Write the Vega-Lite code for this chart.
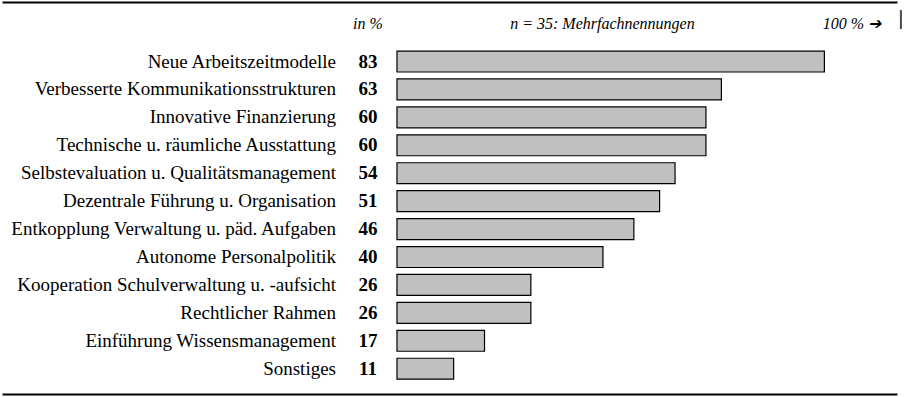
{
  "$schema": "https://vega.github.io/schema/vega-lite/v6.json",
  "autosize": {"type": "none"},
  "padding": {"left": 2, "top": 2, "right": 8, "bottom": 11},
  "width": 895,
  "height": 384,
  "background": "white",
  "config": {"view": {"stroke": null}, "font": "Liberation Serif"},
  "datasets": {
    "rows": [
      {"cat": "Neue Arbeitszeitmodelle", "value": 83},
      {"cat": "Verbesserte Kommunikationsstrukturen", "value": 63},
      {"cat": "Innovative Finanzierung", "value": 60},
      {"cat": "Technische u. räumliche Ausstattung", "value": 60},
      {"cat": "Selbstevaluation u. Qualitätsmanagement", "value": 54},
      {"cat": "Dezentrale Führung u. Organisation", "value": 51},
      {"cat": "Entkopplung Verwaltung u. päd. Aufgaben", "value": 46},
      {"cat": "Autonome Personalpolitik", "value": 40},
      {"cat": "Kooperation Schulverwaltung u. -aufsicht ", "value": 26},
      {"cat": "Rechtlicher Rahmen", "value": 26},
      {"cat": "Einführung Wissensmanagement", "value": 17},
      {"cat": "Sonstiges", "value": 11}
    ],
    "headers": [
      {"h": "in %", "at": -5.63},
      {"h": "n =  35: Mehrfachnennungen", "at": 39.9},
      {"h": "100 % ➔", "at": 88.35}
    ]
  },
  "resolve": {"axis": {"x": "independent"}},
  "layer": [
    {
      "data": {"name": "rows"},
      "mark": {"type": "bar", "fill": "#c0c0c0", "stroke": "black", "strokeWidth": 1.2},
      "encoding": {
        "y": {"field": "cat", "type": "nominal", "sort": null, "axis": null,
              "scale": {"paddingInner": 0.25, "paddingOuter": 1, "align": 0.878}},
        "x": {"field": "value", "type": "quantitative",
              "scale": {"domain": [-76.7, 97.1], "nice": false, "zero": false},
              "axis": {"orient": "bottom", "offset": 8, "domainColor": "black", "domainWidth": 2, "ticks": false, "labels": false, "grid": false, "title": null}},
        "x2": {"datum": 0}
      }
    },
    {
      "data": {"name": "rows"},
      "mark": {"type": "text", "align": "right", "baseline": "middle", "fontSize": 19, "font": "Liberation Serif", "color": "black"},
      "encoding": {
        "y": {"field": "cat", "type": "nominal", "sort": null, "axis": null},
        "x": {"datum": -11.84, "type": "quantitative", "axis": null},
        "text": {"field": "cat"}
      }
    },
    {
      "data": {"name": "rows"},
      "mark": {"type": "text", "align": "center", "baseline": "middle", "fontSize": 19, "fontWeight": "bold", "font": "Liberation Serif", "color": "black"},
      "encoding": {
        "y": {"field": "cat", "type": "nominal", "sort": null, "axis": null},
        "x": {"datum": -5.63, "type": "quantitative", "axis": null},
        "text": {"field": "value"}
      }
    },
    {
      "data": {"name": "headers"},
      "mark": {"type": "text", "align": "center", "baseline": "middle", "fontSize": 16, "fontStyle": "italic", "font": "Liberation Serif", "color": "black", "dy": -37.5},
      "encoding": {
        "y": {"datum": "Neue Arbeitszeitmodelle", "type": "nominal", "axis": null},
        "x": {"field": "at", "type": "quantitative",
              "axis": {"orient": "top", "domainColor": "black", "domainWidth": 2, "ticks": false, "labels": false, "grid": false, "title": null}},
        "text": {"field": "h"}
      }
    },
    {
      "data": {"values": [{"mark": "end"}]},
      "mark": {"type": "tick", "color": "black", "size": 19, "thickness": 2, "orient": "vertical"},
      "encoding": {
        "y": {"datum": "Neue Arbeitszeitmodelle", "type": "nominal", "axis": null},
        "yOffset": {"value": -31.5},
        "x": {"datum": 97.86, "type": "quantitative", "axis": null}
      }
    }
  ]
}
